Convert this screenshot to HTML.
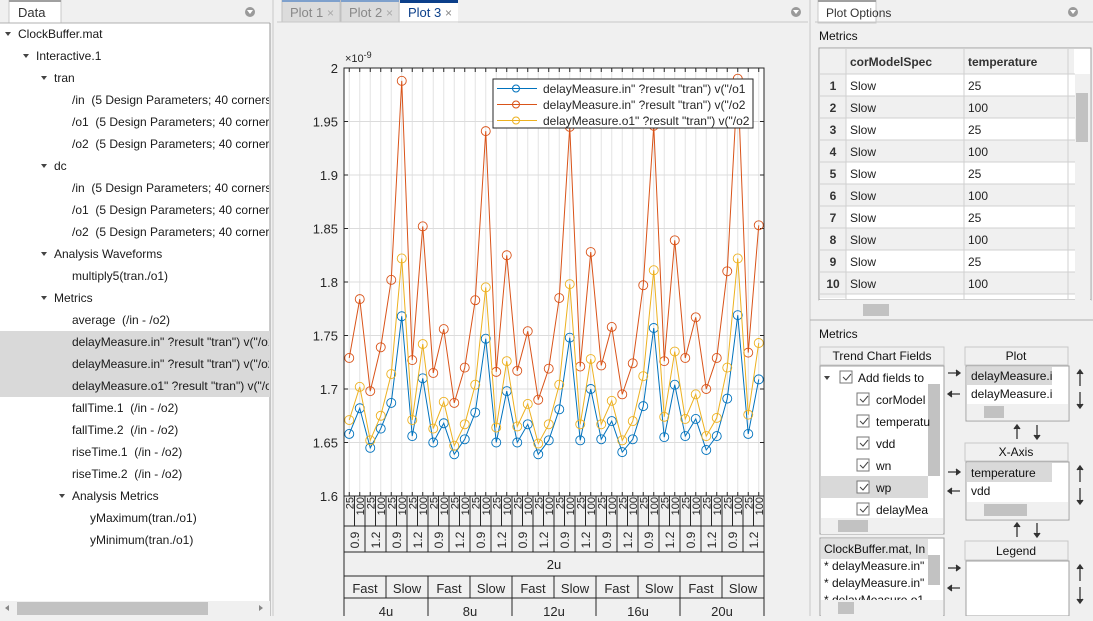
<!DOCTYPE html>
<html><head><meta charset="utf-8"><style>
body{margin:0;width:1093px;height:616px;overflow:hidden;background:#f0f0f0;font-family:"Liberation Sans",Arial,sans-serif}
svg text{font-family:"Liberation Sans",Arial,sans-serif;white-space:pre}
</style></head><body>
<svg id="s" width="1093" height="616" xmlns="http://www.w3.org/2000/svg" font-size="12" xml:space="preserve">
<rect width="1093" height="616" fill="#f0f0f0"/>
<rect x="0" y="0" width="270" height="22" fill="#f0f0f0"/>
<rect x="9" y="0" width="52" height="23" fill="#fff" stroke="#c8c8c8"/>
<rect x="9" y="0" width="52" height="2" fill="#a0a0a0"/>
<text x="18" y="17" font-size="13" fill="#333">Data</text>
<circle cx="250" cy="12" r="5" fill="#9a9a9a"/><path d="M247,10 L253,10 L250,14Z" fill="#fff"/>
<rect x="0" y="23" width="270" height="578" fill="#fff"/>
<line x1="0" y1="23" x2="270" y2="23" stroke="#b0b0b0"/>
<line x1="270" y1="23" x2="270" y2="616" stroke="#9a9a9a"/>
<rect x="0" y="331" width="270" height="66" fill="#d9d9d9"/>
<g id="tree" fill="#1a1a1a" font-size="12"></g>
<rect x="0" y="601" width="270" height="15" fill="#f0f0f0"/>
<rect x="17" y="602" width="191" height="13" fill="#c2c2c2"/>
<path d="M5,608 L9,605 L9,611Z M263,608 L259,605 L259,611Z" fill="#888"/>
<line x1="273" y1="0" x2="273" y2="616" stroke="#c8c8c8"/>
<rect x="277" y="0" width="531" height="22" fill="#f0f0f0"/>
<rect x="282" y="0" width="58" height="22" fill="#dcdcdc" stroke="#c0c0c0"/><rect x="282" y="0" width="58" height="2" fill="#7ea0cc"/>
<text x="290" y="17" font-size="13" fill="#888">Plot 1</text><text x="327" y="17" font-size="12" fill="#aaa">×</text>
<rect x="341" y="0" width="58" height="22" fill="#dcdcdc" stroke="#c0c0c0"/><rect x="341" y="0" width="58" height="2" fill="#7ea0cc"/>
<text x="349" y="17" font-size="13" fill="#888">Plot 2</text><text x="386" y="17" font-size="12" fill="#aaa">×</text>
<rect x="400" y="0" width="58" height="23" fill="#fff"/><rect x="400" y="0" width="58" height="3" fill="#0b3f8a"/>
<text x="408" y="17" font-size="13" fill="#0b3f8a">Plot 3</text><text x="445" y="17" font-size="12" fill="#888">×</text>
<line x1="277" y1="22" x2="808" y2="22" stroke="#c8c8c8"/>
<circle cx="796" cy="12" r="5" fill="#9a9a9a"/><path d="M793,10 L799,10 L796,14Z" fill="#fff"/>
<line x1="810" y1="0" x2="810" y2="616" stroke="#c8c8c8"/>
<rect x="344" y="68" width="420" height="428" fill="#fff"/>
<g id="grid"></g>
<g id="series"></g>
<rect x="344" y="68" width="420" height="428" fill="none" stroke="#262626"/>
<g id="yt" font-size="13" fill="#262626" text-anchor="end"></g>
<text x="345" y="62" font-size="11" fill="#262626">×10<tspan dy="-4" font-size="9">-9</tspan></text>
<g id="xl" fill="#262626"></g>
<rect x="493" y="79" width="260" height="49" fill="#fff" stroke="#262626"/>
<line x1="497" y1="88.5" x2="537" y2="88.5" stroke="#0072bd"/><circle cx="516" cy="88.5" r="3.5" fill="none" stroke="#0072bd"/>
<line x1="497" y1="104.5" x2="537" y2="104.5" stroke="#d95319"/><circle cx="516" cy="104.5" r="3.5" fill="none" stroke="#d95319"/>
<line x1="497" y1="120.5" x2="537" y2="120.5" stroke="#edb120"/><circle cx="516" cy="120.5" r="3.5" fill="none" stroke="#edb120"/>
<g font-size="12" fill="#262626">
<text x="543" y="93">delayMeasure.in" ?result "tran") v("/o1</text>
<text x="543" y="109">delayMeasure.in" ?result "tran") v("/o2</text>
<text x="543" y="125">delayMeasure.o1" ?result "tran") v("/o2</text>
</g>
<rect x="818" y="0" width="58" height="23" fill="#fff" stroke="#c8c8c8"/><rect x="818" y="0" width="58" height="2" fill="#a0a0a0"/>
<text x="826" y="17" font-size="12" fill="#333">Plot Options</text>
<circle cx="1073" cy="12" r="5" fill="#9a9a9a"/><path d="M1070,10 L1076,10 L1073,14Z" fill="#fff"/>
<line x1="815" y1="22" x2="1093" y2="22" stroke="#c8c8c8"/>
<text x="819" y="40" font-size="12" fill="#111">Metrics</text>
<rect x="819" y="48" width="272" height="252" fill="#fff" stroke="#a0a0a0"/>
<g id="tbl" font-size="12"></g>
<rect x="1075" y="74" width="15" height="226" fill="#f0f0f0"/>
<rect x="1076" y="93" width="12" height="49" fill="#c2c2c2"/>
<rect x="819" y="300" width="272" height="16" fill="#f0f0f0"/>
<rect x="863" y="304" width="26" height="12" fill="#c2c2c2"/>
<line x1="810" y1="320" x2="1093" y2="320" stroke="#b0b0b0"/>
<text x="819" y="338" font-size="12" fill="#111">Metrics</text>
<rect x="820" y="347" width="124" height="18" fill="#f0f0f0" stroke="#c8c8c8"/>
<text x="882" y="360" font-size="12" text-anchor="middle" fill="#111">Trend Chart Fields</text>
<rect x="820" y="366" width="124" height="168" fill="#fff" stroke="#a0a0a0"/>
<rect x="821" y="476" width="107" height="22" fill="#d9d9d9"/>
<rect x="928" y="384" width="12" height="92" fill="#c2c2c2"/>
<rect x="821" y="518" width="122" height="16" fill="#f0f0f0"/><rect x="838" y="520" width="30" height="12" fill="#c2c2c2"/>
<g font-size="12" fill="#111">
<path d="M824,376 L830,376 L827,380Z" fill="#444"/>
<rect x="840" y="371" width="12" height="12" fill="#fff" stroke="#777"/><text x="858" y="382">Add fields to</text>
<rect x="857" y="393" width="12" height="12" fill="#fff" stroke="#777"/><text x="876" y="404">corModel</text>
<rect x="857" y="415" width="12" height="12" fill="#fff" stroke="#777"/><text x="876" y="426">temperatu</text>
<rect x="857" y="437" width="12" height="12" fill="#fff" stroke="#777"/><text x="876" y="448">vdd</text>
<rect x="857" y="459" width="12" height="12" fill="#fff" stroke="#777"/><text x="876" y="470">wn</text>
<rect x="857" y="481" width="12" height="12" fill="#fff" stroke="#777"/><text x="876" y="492">wp</text>
<rect x="857" y="503" width="12" height="12" fill="#fff" stroke="#777"/><text x="876" y="514">delayMea</text>
<g fill="none" stroke="#444"><path d="M843,377 l3,3 l5,-6"/><path d="M860,399 l3,3 l5,-6"/><path d="M860,421 l3,3 l5,-6"/><path d="M860,443 l3,3 l5,-6"/><path d="M860,465 l3,3 l5,-6"/><path d="M860,487 l3,3 l5,-6"/><path d="M860,509 l3,3 l5,-6"/></g>
</g>
<rect x="820" y="538" width="124" height="78" fill="#fff" stroke="#a0a0a0"/>
<rect x="821" y="539" width="107" height="20" fill="#e0e0e0"/>
<rect x="928" y="555" width="12" height="30" fill="#c2c2c2"/>
<g font-size="12" fill="#111"><text x="824" y="553">ClockBuffer.mat, In</text><text x="824" y="570">* delayMeasure.in"</text><text x="824" y="587">* delayMeasure.in"</text><text x="824" y="604">* delayMeasure.o1</text></g>
<rect x="821" y="600" width="122" height="16" fill="#f0f0f0"/><rect x="838" y="602" width="16" height="12" fill="#c2c2c2"/>
<g font-size="12" fill="#111">
<rect x="965" y="347" width="103" height="18" fill="#f0f0f0" stroke="#c8c8c8"/><text x="1016" y="360" text-anchor="middle">Plot</text>
<rect x="966" y="366" width="103" height="55" fill="#fff" stroke="#a0a0a0"/>
<rect x="967" y="367" width="85" height="18" fill="#d9d9d9"/>
<text x="971" y="380">delayMeasure.i</text><text x="971" y="398">delayMeasure.i</text>
<rect x="967" y="404" width="101" height="16" fill="#f0f0f0"/><rect x="984" y="406" width="20" height="12" fill="#c2c2c2"/>
<rect x="965" y="443" width="103" height="18" fill="#f0f0f0" stroke="#c8c8c8"/><text x="1016" y="456" text-anchor="middle">X-Axis</text>
<rect x="966" y="462" width="103" height="58" fill="#fff" stroke="#a0a0a0"/>
<rect x="967" y="463" width="85" height="19" fill="#d9d9d9"/>
<text x="971" y="477">temperature</text><text x="971" y="495">vdd</text>
<rect x="967" y="502" width="101" height="17" fill="#f0f0f0"/><rect x="984" y="504" width="43" height="12" fill="#c2c2c2"/>
<rect x="965" y="541" width="103" height="19" fill="#f0f0f0" stroke="#c8c8c8"/><text x="1016" y="555" text-anchor="middle">Legend</text>
<rect x="966" y="561" width="103" height="55" fill="#fff" stroke="#a0a0a0"/>
</g>
<g stroke="#333" stroke-width="1.3" fill="#333">
<path d="M948,373 h12 M956,370 l4,3 l-4,3"/><path d="M948,394 h12 M952,391 l-4,3 l4,3"/>
<path d="M948,472 h12 M956,469 l4,3 l-4,3"/><path d="M948,491 h12 M952,488 l-4,3 l4,3"/>
<path d="M948,568 h12 M956,565 l4,3 l-4,3"/><path d="M948,588 h12 M952,585 l-4,3 l4,3"/>
<path d="M1080,370 v16 M1077,374 l3,-4 l3,4"/><path d="M1080,392 v16 M1077,404 l3,4 l3,-4"/>
<path d="M1080,466 v16 M1077,470 l3,-4 l3,4"/><path d="M1080,488 v16 M1077,500 l3,4 l3,-4"/>
<path d="M1080,565 v16 M1077,569 l3,-4 l3,4"/><path d="M1080,587 v16 M1077,599 l3,4 l3,-4"/>
<path d="M1017,425 v14 M1014,429 l3,-4 l3,4"/><path d="M1037,425 v14 M1034,435 l3,4 l3,-4"/>
<path d="M1017,523 v14 M1014,527 l3,-4 l3,4"/><path d="M1037,523 v14 M1034,533 l3,4 l3,-4"/>
</g>
</svg>
<script>
var NS="http://www.w3.org/2000/svg";
function el(p,t,a,txt){var e=document.createElementNS(NS,t);for(var k in a)e.setAttribute(k,a[k]);if(txt!==undefined)e.textContent=txt;document.getElementById(p).appendChild(e);return e;}
var rows=[[0,"ClockBuffer.mat",1],[1,"Interactive.1",1],[2,"tran",1],[3,"/in  (5 Design Parameters; 40 corners)"],[3,"/o1  (5 Design Parameters; 40 corners)"],[3,"/o2  (5 Design Parameters; 40 corners)"],[2,"dc",1],[3,"/in  (5 Design Parameters; 40 corners)"],[3,"/o1  (5 Design Parameters; 40 corners)"],[3,"/o2  (5 Design Parameters; 40 corners)"],[2,"Analysis Waveforms",1],[3,"multiply5(tran./o1)"],[2,"Metrics",1],[3,"average  (/in - /o2)"],[3,"delayMeasure.in\" ?result \"tran\") v(\"/o1\")"],[3,"delayMeasure.in\" ?result \"tran\") v(\"/o2\")"],[3,"delayMeasure.o1\" ?result \"tran\") v(\"/o2\")"],[3,"fallTime.1  (/in - /o2)"],[3,"fallTime.2  (/in - /o2)"],[3,"riseTime.1  (/in - /o2)"],[3,"riseTime.2  (/in - /o2)"],[3,"Analysis Metrics",1],[4,"yMaximum(tran./o1)"],[4,"yMinimum(tran./o1)"]];
rows.forEach(function(r,i){var y=34+22*i;var lv=r[0];var x;
 if(r[2]){x=lv==3?72:(lv==0?18:(lv==1?36:54)); el("tree","path",{d:"M"+(x-13)+","+(y-2)+" l6,0 l-3,4z",fill:"#444"});}
 else x=lv==4?90:72;
 el("tree","text",{x:x,y:y+4},r[1]);});
document.getElementById("tree").setAttribute("clip-path","url(#c)");
var cp=document.createElementNS(NS,"clipPath");cp.id="c";var cr=document.createElementNS(NS,"rect");cr.setAttribute("x",0);cr.setAttribute("y",23);cr.setAttribute("width",269);cr.setAttribute("height",578);cp.appendChild(cr);document.getElementById("s").appendChild(cp);
el("tbl","rect",{x:820,y:49,width:254,height:25,fill:"#f0f0f0"});
el("tbl","text",{x:850,y:66,"font-weight":"bold",fill:"#333"},"corModelSpec");
el("tbl","text",{x:968,y:66,"font-weight":"bold",fill:"#333"},"temperature");
for(var i=0;i<11;i++){var y=74+22*i;var h=i==10?4:22;
 el("tbl","rect",{x:846,y:y,width:229,height:Math.min(h,300-y),fill:i%2?"#f0f0f0":"#fff"});
 el("tbl","rect",{x:820,y:y,width:26,height:Math.min(h,300-y),fill:"#f0f0f0"});
 el("tbl","line",{x1:820,y1:y,x2:1075,y2:y,stroke:"#d0d0d0"});
 if(i<10){el("tbl","text",{x:833,y:y+16,"text-anchor":"middle","font-weight":"bold",fill:"#333"},String(i+1));
 el("tbl","text",{x:850,y:y+16,fill:"#222"},"Slow");el("tbl","text",{x:968,y:y+16,fill:"#222"},i%2?"100":"25");}}
[846,964,1068].forEach(function(x){el("tbl","line",{x1:x,y1:49,x2:x,y2:300,stroke:"#d0d0d0"});});
var Y=function(v){return 68+(2-v)*1070;};var X=function(i){return 349.25+10.5*i;};
for(var i=0;i<40;i++)el("grid","line",{x1:X(i),y1:68,x2:X(i),y2:496,stroke:"#e3e3e3"});
for(var k=1;k<8;k++){var y=Y(1.6+0.05*k);el("grid","line",{x1:344,y1:y,x2:764,y2:y,stroke:"#dcdcdc"});}
for(var i=0;i<40;i++){el("grid","line",{x1:X(i),y1:68,x2:X(i),y2:72,stroke:"#262626"});el("grid","line",{x1:X(i),y1:496,x2:X(i),y2:492,stroke:"#262626"});}
["1.6","1.65","1.7","1.75","1.8","1.85","1.9","1.95","2"].forEach(function(t,k){var y=Y(1.6+0.05*k);el("yt","text",{x:338,y:y+5},t);
 el("grid","line",{x1:344,y1:y,x2:348,y2:y,stroke:"#262626"});el("grid","line",{x1:760,y1:y,x2:764,y2:y,stroke:"#262626"});});
var B=[1.658,1.682,1.645,1.663,1.687,1.768,1.656,1.71,1.65,1.668,1.639,1.653,1.678,1.747,1.65,1.698,1.65,1.667,1.639,1.652,1.681,1.748,1.652,1.70,1.653,1.67,1.641,1.653,1.684,1.757,1.655,1.704,1.656,1.672,1.643,1.656,1.691,1.769,1.658,1.709];
var O=[1.729,1.784,1.698,1.739,1.802,1.988,1.727,1.852,1.715,1.756,1.687,1.72,1.783,1.941,1.716,1.825,1.717,1.754,1.69,1.719,1.785,1.945,1.721,1.828,1.722,1.758,1.695,1.724,1.797,1.946,1.726,1.839,1.729,1.767,1.70,1.729,1.81,1.99,1.734,1.853];
var G=[1.671,1.702,1.652,1.675,1.714,1.822,1.671,1.742,1.663,1.688,1.647,1.667,1.704,1.795,1.664,1.726,1.665,1.686,1.649,1.667,1.704,1.798,1.667,1.728,1.667,1.689,1.652,1.67,1.712,1.811,1.674,1.735,1.672,1.695,1.656,1.673,1.72,1.822,1.676,1.743];
[[B,"#0072bd"],[O,"#d95319"],[G,"#edb120"]].forEach(function(s){var d=s[0].map(function(v,i){return X(i).toFixed(2)+","+Y(v).toFixed(2);}).join(" ");
 el("series","polyline",{points:d,fill:"none",stroke:s[1],"stroke-width":1});
 s[0].forEach(function(v,i){el("series","circle",{cx:X(i),cy:Y(v),r:4.5,fill:"none",stroke:s[1],"stroke-width":0.9});});});
var L=344,W=420;
function hl(y){el("xl","line",{x1:L,y1:y,x2:L+W,y2:y,stroke:"#262626"});}
function vl(x,y1,y2){el("xl","line",{x1:x,y1:y1,x2:x,y2:y2,stroke:"#262626"});}
[496,526,552,576,598].forEach(hl);
vl(L,496,616);vl(L+W,496,616);
for(var i=0;i<40;i++){var x=L+10.5*i;if(i)vl(x,496,526);var cx=x+5.25;
 el("xl","text",{x:0,y:0,"font-size":"11","text-anchor":"end",transform:"translate("+(cx+4)+",497) rotate(-90)"},i%2?"100":"25");}
for(var i=0;i<20;i++){var x=L+21*i;if(i)vl(x,526,552);
 el("xl","text",{x:0,y:0,"font-size":"12","text-anchor":"middle",transform:"translate("+(x+15)+",540) rotate(-90)"},i%2?"1.2":"0.9");}
el("xl","text",{x:L+W/2,y:569,"font-size":"13","text-anchor":"middle"},"2u");
for(var i=0;i<10;i++){var x=L+42*i;if(i)vl(x,576,598);el("xl","text",{x:x+21,y:593,"font-size":"13","text-anchor":"middle"},i%2?"Slow":"Fast");}
for(var i=0;i<5;i++){var x=L+84*i;if(i)vl(x,598,616);el("xl","text",{x:x+42,y:616,"font-size":"13","text-anchor":"middle"},(4*(i+1))+"u");}
</script>
</body></html>
